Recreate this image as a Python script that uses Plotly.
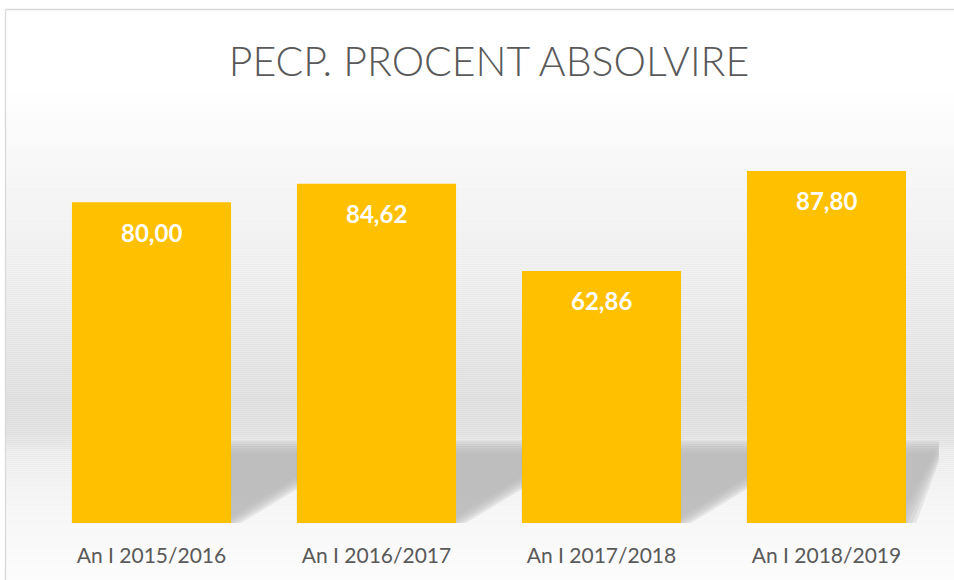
import plotly.graph_objects as go

# ---- data ----
categories = ["An I 2015/2016", "An I 2016/2017", "An I 2017/2018", "An I 2018/2019"]
values = [80.00, 84.62, 62.86, 87.80]
value_labels = ["80,00", "84,62", "62,86", "87,80"]
title_text = "PECP. PROCENT ABSOLVIRE"

# ---- layout geometry (pixels) ----
W, H = 954, 580
PL, PR, PT, PB = 39, 939, 122, 523   # plot area
BAR_W = 0.707
BAR_COLOR = "#FFC000"
TEXT_GRAY = "#595959"
FONT = "Lato"

def px_to_py(py):
    return (PB - py) / (PB - PT)

def px_to_px(px):
    return (px - PL) / (PR - PL)

def hexmix(stops, y):
    for (y0, c0), (y1, c1) in zip(stops, stops[1:]):
        if y0 <= y <= y1:
            t = (y - y0) / (y1 - y0) if y1 > y0 else 0
            v = round(c0 + (c1 - c0) * t)
            return f"rgb({v},{v},{v})"
    v = stops[-1][1] if y > stops[-1][0] else stops[0][1]
    return f"rgb({v},{v},{v})"

shapes = []
# background gradient (wall + floor)
stops = [(9, 255), (90, 255), (160, 247), (280, 236), (400, 220), (432, 222), (447, 228),
         (449, 234), (500, 244), (530, 247), (580, 252)]
step = 2
y = 9.5
while y < H:
    y2 = min(y + step, H + 1)
    shapes.append(dict(type="rect", xref="paper", yref="paper", layer="below",
                       x0=px_to_px(5.5), x1=px_to_px(W + 2),
                       y0=px_to_py(y), y1=px_to_py(y2),
                       line=dict(width=0), fillcolor=hexmix(stops, (y + y2) / 2)))
    y = y2

# bar shadows (soft, skewed)
xmax_data = 3.5 + 3 / 225
for i in range(len(categories)):
    L = i - BAR_W / 2
    R = i + BAR_W / 2
    for k in range(6):
        ytop = 441 + 2.5 * k
        off = (k - 2.5) * 4 / 225
        dx = (PB - ytop) * 66 / 40 / 225
        xr = min(R + dx + off, xmax_data)
        xr_b = min(R + off, xmax_data)
        path = (f"M {L},{px_to_py(ytop)} L {L},{px_to_py(PB)} L {xr_b},{px_to_py(PB)} "
                f"L {xr},{px_to_py(ytop)} Z")
        shapes.append(dict(type="path", xref="x", yref="paper", layer="below",
                           path=path, fillcolor="#b4b4b4", opacity=0.26, line=dict(width=0)))

# outer frame lines
shapes.append(dict(type="line", xref="paper", yref="paper", layer="above",
                   x0=px_to_px(5.5), x1=px_to_px(W + 2), y0=px_to_py(9.5), y1=px_to_py(9.5),
                   line=dict(color="#d9d9d9", width=1.3)))
shapes.append(dict(type="line", xref="paper", yref="paper", layer="above",
                   x0=px_to_px(5.5), x1=px_to_px(5.5), y0=px_to_py(9.5), y1=px_to_py(H + 2),
                   line=dict(color="#d9d9d9", width=1.3)))

xs = list(range(len(categories)))
fig = go.Figure()
fig.add_trace(go.Bar(x=xs, y=values, width=BAR_W, marker=dict(color=BAR_COLOR, line=dict(width=0)),
                     hoverinfo="skip"))

annotations = []
for xi, v, lab in zip(xs, values, value_labels):
    annotations.append(dict(x=xi, y=v, xref="x", yref="y", text=f"<b>{lab}</b>",
                            showarrow=False, yanchor="middle", yshift=-30,
                            font=dict(family=FONT, size=24, color="white")))

fig.update_layout(
    width=W, height=H,
    margin=dict(l=PL, r=W - PR, t=PT, b=H - PB, autoexpand=False),
    paper_bgcolor="white", plot_bgcolor="rgba(0,0,0,0)",
    showlegend=False,
    title=dict(text=title_text, x=489 / W, xref="container", xanchor="center",
               y=1 - 61.5 / H, yref="container", yanchor="middle",
               font=dict(family=FONT, size=41, color=TEXT_GRAY, weight=300)),
    xaxis=dict(range=[-0.5, 3.5], tickvals=xs, ticktext=categories, showgrid=False,
               zeroline=False, showline=False, ticks="", ticklabelstandoff=18,
               tickfont=dict(family=FONT, size=21, color=TEXT_GRAY)),
    yaxis=dict(range=[0, 100], visible=False, showgrid=False, zeroline=False),
    shapes=shapes, annotations=annotations,
)
fig.write_html("out.html", config={"displayModeBar": False, "staticPlot": True},
               post_script="document.body.style.margin='0';document.body.style.overflow='hidden';")
